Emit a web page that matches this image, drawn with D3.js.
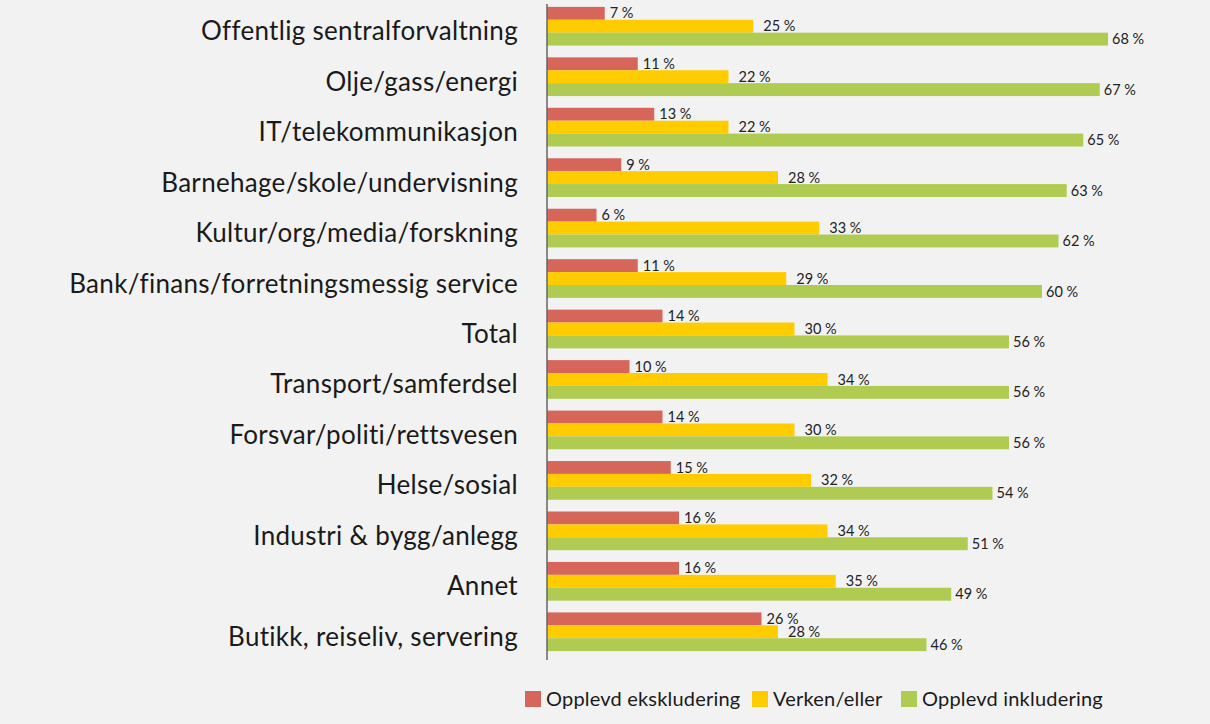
<!DOCTYPE html>
<html>
<head>
<meta charset="utf-8">
<script src="https://cdn.jsdelivr.net/npm/d3@7"></script>
<style>
  body { margin: 0; background: #f2f2f2; }
  svg { display: block; }
</style>
</head>
<body>
<script>
// categories and series values
const categories = [
  "Offentlig sentralforvaltning",
  "Olje/gass/energi",
  "IT/telekommunikasjon",
  "Barnehage/skole/undervisning",
  "Kultur/org/media/forskning",
  "Bank/finans/forretningsmessig service",
  "Total",
  "Transport/samferdsel",
  "Forsvar/politi/rettsvesen",
  "Helse/sosial",
  "Industri & bygg/anlegg",
  "Annet",
  "Butikk, reiseliv, servering"
];
const ekskludering = [7, 11, 13, 9, 6, 11, 14, 10, 14, 15, 16, 16, 26];
const verkenEller = [25, 22, 22, 28, 33, 29, 30, 34, 30, 32, 34, 35, 28];
const inkludering = [68, 67, 65, 63, 62, 60, 56, 56, 56, 54, 51, 49, 46];
const seriesNames = ["Opplevd ekskludering", "Verken/eller", "Opplevd inkludering"];

const colors = ["#d7665a", "#ffcc00", "#afcb52"];
const labelGap = [5, 10, 4];

const W = 1210, H = 724;
const x0 = 547;
const font = "Lato, 'Open Sans', sans-serif";

const svg = d3.select("body").append("svg")
    .attr("width", W)
    .attr("height", H);

svg.append("rect").attr("width", W).attr("height", H).attr("fill", "#f2f2f2");

const x = d3.scaleLinear().domain([0, 70]).range([x0, x0 + 70 * 8.25]);

const y = d3.scaleBand()
    .domain(categories)
    .range([1, 657])
    .paddingInner(0.233)
    .paddingOuter(0.1165);

const sub = d3.scaleBand()
    .domain(d3.range(3))
    .range([0, y.bandwidth()]);

const rows = categories.map((c, i) => ({
  cat: c,
  vals: [ekskludering[i], verkenEller[i], inkludering[i]]
}));

const groups = svg.append("g")
    .selectAll("g")
    .data(rows)
    .enter().append("g")
    .attr("transform", d => `translate(0,${y(d.cat)})`);

groups.selectAll("rect")
    .data(d => d.vals)
    .enter().append("rect")
    .attr("x", x(0))
    .attr("y", (v, j) => sub(j))
    .attr("width", v => x(v) - x(0))
    .attr("height", sub.bandwidth())
    .attr("fill", (v, j) => colors[j]);

groups.selectAll("text.val")
    .data(d => d.vals)
    .enter().append("text")
    .attr("class", "val")
    .attr("x", (v, j) => x(v) + labelGap[j])
    .attr("y", (v, j) => sub(j) + sub.bandwidth() / 2)
    .attr("dy", "0.35em")
    .attr("font-family", font)
    .attr("font-size", 14.5)
    .attr("fill", "#222")
    .text(v => v + " %");

// category labels
svg.append("g")
    .selectAll("text")
    .data(categories)
    .enter().append("text")
    .attr("x", 518)
    .attr("y", d => y(d) + y.bandwidth() / 2 + 14)
    .attr("text-anchor", "end")
    .attr("font-family", font)
    .attr("font-size", 26)
    .attr("letter-spacing", 0.3)
    .attr("fill", "#1a1a1a")
    .text(d => d);

// vertical axis line
svg.append("line")
    .attr("x1", x0).attr("x2", x0)
    .attr("y1", 4).attr("y2", 660)
    .attr("stroke", "#666")
    .attr("stroke-width", 1.5);

// legend
const legendX = [525, 752, 901];
const legend = svg.append("g")
    .selectAll("g")
    .data(seriesNames)
    .enter().append("g")
    .attr("transform", (d, i) => `translate(${legendX[i]},691)`);

legend.append("rect")
    .attr("width", 16).attr("height", 16)
    .attr("fill", (d, i) => colors[i]);

legend.append("text")
    .attr("x", 21)
    .attr("y", 15)
    .attr("font-family", font)
    .attr("font-size", 20)
    .attr("letter-spacing", 0.2)
    .attr("fill", "#1a1a1a")
    .text(d => d);
</script>
</body>
</html>
